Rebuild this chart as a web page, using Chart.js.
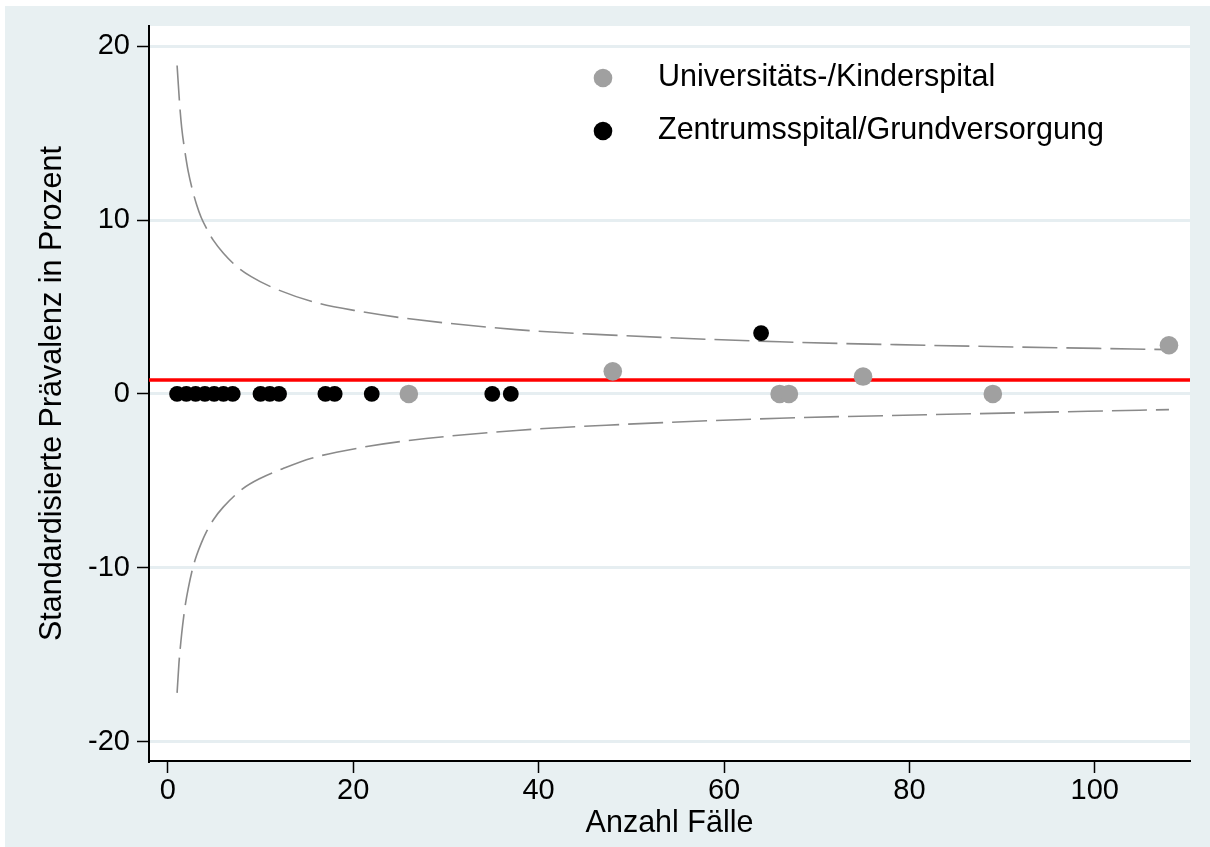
<!DOCTYPE html>
<html>
<head>
<meta charset="utf-8">
<script src="https://cdn.jsdelivr.net/npm/chart.js@4/dist/chart.umd.min.js"></script>
<style>
  html, body { margin: 0; padding: 0; background: #fff; }
  canvas { display: block; }
</style>
</head>
<body>
<canvas id="funnelChart" width="1210" height="847"></canvas>
<script>
// Universitäts-/Kinderspital (grey)
const uniCases = [26, 48, 66, 67, 75, 89, 108];
const uniPrev = [0, 1.3, 0, 0, 1.0, 0, 2.8];
// Zentrumsspital/Grundversorgung (black)
const zentCases = [1, 2, 3, 4, 5, 6, 7, 10, 11, 12, 17, 18, 22, 35, 37, 64];
const zentPrev = [0, 0, 0, 0, 0, 0, 0, 0, 0, 0, 0, 0, 0, 0, 0, 3.5];
// overall prevalence (red line)
const meanPrev = 0.8;
// control limits
const upperCases = [1, 1.3, 1.5, 1.8, 2.2, 2.7, 3.1, 3.6, 4.2, 4.9, 6, 7.4, 9, 11.4, 16, 20.7, 25.7, 37.6, 47.3, 66, 81.8, 108];
const upperPrev = [18.9, 16.5, 15.3, 14.1, 12.8, 11.65, 10.9, 10.15, 9.5, 8.85, 8.1, 7.35, 6.75, 6.1, 5.25, 4.75, 4.35, 3.7, 3.4, 3.0, 2.8, 2.55];
const lowerCases = [1, 1.2, 1.4, 1.6, 1.9, 2.2, 2.7, 3.1, 3.6, 4.2, 4.9, 6, 8.1, 10, 12.4, 15.5, 20.7, 25.7, 37.6, 47.3, 66, 81.8, 108];
const lowerPrev = [-17.2, -15.5, -14.3, -13.3, -12.1, -11.2, -10.0, -9.3, -8.6, -7.9, -7.25, -6.5, -5.45, -4.85, -4.3, -3.7, -3.1, -2.7, -2.1, -1.8, -1.4, -1.2, -0.9];
// axes
const xTicks = [0, 20, 40, 60, 80, 100];
const yTicks = [-20, -10, 0, 10, 20];
const xMin = -2.03, xMax = 110.27;
const yMin = -21.12, yMax = 21.17;

const toPoints = (xs, ys) => xs.map((x, i) => ({ x: x, y: ys[i] }));
const fontFamily = '"Liberation Sans", Arial, sans-serif';

const backgroundPlugin = {
    id: 'stataBackground',
    beforeDraw(chart) {
        const ctx = chart.ctx;
        const a = chart.chartArea;
        ctx.save();
        ctx.fillStyle = '#ffffff';
        ctx.fillRect(0, 0, chart.width, chart.height);
        ctx.fillStyle = '#e8f0f2';
        ctx.fillRect(5, 6, chart.width - 5, chart.height - 6);
        ctx.fillStyle = '#ffffff';
        ctx.fillRect(a.left, a.top, a.right - a.left, a.bottom - a.top);
        ctx.restore();
    }
};

// legend drawn inside the plot area (top right)
const insideLegend = {
    id: 'insideLegend',
    afterDraw(chart) {
        const ctx = chart.ctx;
        const rows = chart.data.datasets.filter(d => d.inLegend);
        ctx.save();
        ctx.font = '30.5px ' + fontFamily;
        ctx.textBaseline = 'middle';
        ctx.textAlign = 'left';
        rows.forEach((d, i) => {
            const y = 78 + i * 53;
            ctx.beginPath();
            ctx.arc(603, y, 9.3, 0, Math.PI * 2);
            ctx.fillStyle = d.backgroundColor;
            ctx.fill();
            ctx.fillStyle = '#000';
            ctx.fillText(d.label, 658, y);
        });
        ctx.restore();
    }
};

const ctx = document.getElementById('funnelChart').getContext('2d');
const funnelChart = new Chart(ctx, {
    type: 'scatter',
    data: {
        datasets: [
            {
                label: 'Universitäts-/Kinderspital',
                inLegend: true,
                data: toPoints(uniCases, uniPrev),
                backgroundColor: '#a0a0a0',
                borderWidth: 0,
                pointRadius: 9.3
            },
            {
                label: 'Zentrumsspital/Grundversorgung',
                inLegend: true,
                data: toPoints(zentCases, zentPrev),
                backgroundColor: '#000000',
                borderWidth: 0,
                pointRadius: 7.9
            },
            {
                label: 'Mittelwert',
                data: [{ x: xMin, y: meanPrev }, { x: xMax, y: meanPrev }],
                showLine: true,
                borderColor: '#ff0000',
                borderWidth: 3.5,
                pointRadius: 0
            },
            {
                label: 'Obere Grenze',
                data: toPoints(upperCases, upperPrev),
                showLine: true,
                borderColor: '#8a8a8a',
                borderWidth: 1.6,
                borderDash: [35, 9],
                cubicInterpolationMode: 'monotone',
                pointRadius: 0
            },
            {
                label: 'Untere Grenze',
                data: toPoints(lowerCases, lowerPrev),
                showLine: true,
                borderColor: '#8a8a8a',
                borderWidth: 1.6,
                borderDash: [35, 9],
                cubicInterpolationMode: 'monotone',
                pointRadius: 0
            }
        ]
    },
    options: {
        responsive: false,
        animation: false,
        layout: { padding: { left: 0, top: 26, right: 20, bottom: 0 } },
        plugins: {
            legend: { display: false },
            tooltip: { enabled: false }
        },
        scales: {
            x: {
                type: 'linear',
                min: xMin,
                max: xMax,
                afterBuildTicks: (scale) => { scale.ticks = xTicks.map(v => ({ value: v })); },
                afterFit: (scale) => { scale.height = 86; },
                border: { display: true, color: '#000', width: 2 },
                grid: {
                    drawOnChartArea: false,
                    drawTicks: true,
                    tickLength: 12,
                    tickColor: '#000',
                    tickWidth: 1.5
                },
                ticks: {
                    color: '#000',
                    padding: 1,
                    maxRotation: 0,
                    font: { family: fontFamily, size: 29 }
                },
                title: {
                    display: true,
                    text: 'Anzahl Fälle',
                    color: '#000',
                    padding: { top: 0, bottom: 5 },
                    font: { family: fontFamily, size: 30.5 }
                }
            },
            y: {
                type: 'linear',
                min: yMin,
                max: yMax,
                afterBuildTicks: (scale) => { scale.ticks = yTicks.map(v => ({ value: v })); },
                afterFit: (scale) => { scale.width = 149; },
                border: { display: true, color: '#000', width: 2 },
                grid: {
                    color: '#e6eef1',
                    lineWidth: 3,
                    drawTicks: true,
                    tickLength: 12,
                    tickColor: '#000',
                    tickWidth: 1.5
                },
                ticks: {
                    color: '#000',
                    padding: 7,
                    font: { family: fontFamily, size: 29 }
                },
                title: {
                    display: true,
                    text: 'Standardisierte Prävalenz in Prozent',
                    color: '#000',
                    padding: { top: 34, bottom: 0 },
                    font: { family: fontFamily, size: 30.5 }
                }
            }
        }
    },
    plugins: [backgroundPlugin, insideLegend]
});
</script>
</body>
</html>
